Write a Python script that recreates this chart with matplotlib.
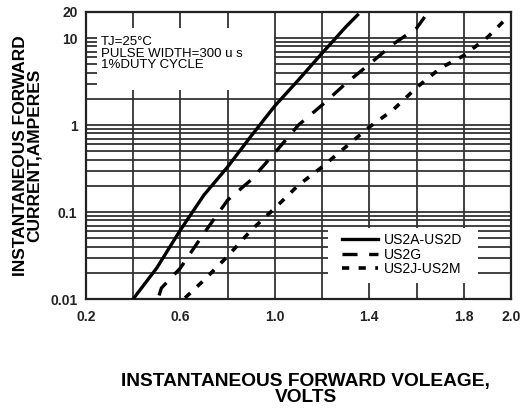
import matplotlib
matplotlib.use('Agg')
import matplotlib.pyplot as plt
from matplotlib.patches import Rectangle
from matplotlib.ticker import FixedLocator, NullFormatter

plt.rcParams['font.family'] = ['Liberation Sans', 'DejaVu Sans']

# forward characteristic
v_a = [0.40, 0.50, 0.60, 0.70, 0.80, 0.90, 1.00, 1.10, 1.20, 1.30, 1.35]
i_a = [0.010, 0.0227, 0.062, 0.157, 0.33, 0.75, 1.66, 3.3, 6.7, 13.4, 18.4]

v_g = [0.51, 0.52, 0.60, 0.70, 0.80, 0.90, 1.00, 1.10, 1.20, 1.30, 1.40, 1.50, 1.60, 1.64]
i_g = [0.011, 0.0134, 0.0227, 0.057, 0.137, 0.235, 0.48, 1.0, 1.7, 3.0, 5.0, 8.5, 13.0, 18.4]

v_j = [0.62, 0.70, 0.80, 0.90, 1.00, 1.10, 1.20, 1.30, 1.40, 1.50, 1.60, 1.70, 1.80, 1.90, 1.99]
i_j = [0.0103, 0.0165, 0.031, 0.062, 0.111, 0.204, 0.33, 0.56, 0.95, 1.49, 2.7, 4.5, 6.3, 10.2, 17.9]

labels = ['US2A-US2D', 'US2G', 'US2J-US2M']
x_ticks = [0.2, 0.6, 1.0, 1.4, 1.8, 2.0]
x_grid = [0.4, 0.8, 1.2, 1.6]
y_ticks = [0.01, 0.1, 1, 10, 20]
y_tick_labels = ['0.01', '0.1', '1', '10', '20']

fig = plt.figure(figsize=(5.2, 4.08), dpi=100)
ax = fig.add_axes([0.165, 0.267, 0.818, 0.704])

ax.set_yscale('log')
ax.set_xlim(0.2, 2.0)
ax.set_ylim(0.01, 20)

ax.xaxis.set_major_locator(FixedLocator(x_ticks))
ax.xaxis.set_minor_locator(FixedLocator(x_grid))
ax.set_xticklabels([f'{t:.1f}' for t in x_ticks])
ax.yaxis.set_major_locator(FixedLocator(y_ticks))
ax.set_yticklabels(y_tick_labels)
ax.yaxis.set_minor_formatter(NullFormatter())

ax.tick_params(which='both', length=0, labelsize=10, colors='#222222')
ax.tick_params(axis='x', pad=8)
ax.tick_params(axis='y', pad=6)
for lab in ax.get_xticklabels() + ax.get_yticklabels():
    lab.set_fontweight('bold')

ax.grid(which='both', axis='both', color='#333333', linewidth=1.3)
ax.set_axisbelow(True)
for s in ax.spines.values():
    s.set_linewidth(1.6)
    s.set_color('#222222')

ax.plot(v_a, i_a, color='black', linewidth=2.4, linestyle='-', label=labels[0], zorder=4)
ax.plot(v_g, i_g, color='black', linewidth=2.4, linestyle=(0, (4.5, 3.5)), label=labels[1], zorder=4)
ax.plot(v_j, i_j, color='black', linewidth=2.6, linestyle=(0, (2, 2.6)), label=labels[2], zorder=4)

# white boxes behind the notes and the legend
ax.add_patch(Rectangle((0.026, 0.728), 0.416, 0.216, transform=ax.transAxes,
                       facecolor='white', edgecolor='none', zorder=2))
ax.add_patch(Rectangle((0.569, 0.056), 0.353, 0.191, transform=ax.transAxes,
                       facecolor='white', edgecolor='none', zorder=2))

ax.text(0.035, 0.915, 'TJ=25°C\nPULSE WIDTH=300 u s\n1%DUTY CYCLE', transform=ax.transAxes,
        fontsize=9.5, va='top', ha='left', linespacing=0.92, zorder=5)

leg = ax.legend(loc='upper left', bbox_to_anchor=(0.59, 0.25), frameon=False,
                fontsize=10, handlelength=2.6, handletextpad=0.4, labelspacing=0.05,
                borderaxespad=0)
leg.set_zorder(6)

ax.set_ylabel('INSTANTANEOUS FORWARD\nCURRENT,AMPERES', fontsize=12.5, fontweight='bold',
              linespacing=0.9, labelpad=6)
fig.text(0.588, 0.045, 'INSTANTANEOUS FORWARD VOLEAGE,\nVOLTS', fontsize=13.8,
         fontweight='bold', ha='center', va='center', linespacing=0.95)

fig.savefig('out.png', dpi=100)
